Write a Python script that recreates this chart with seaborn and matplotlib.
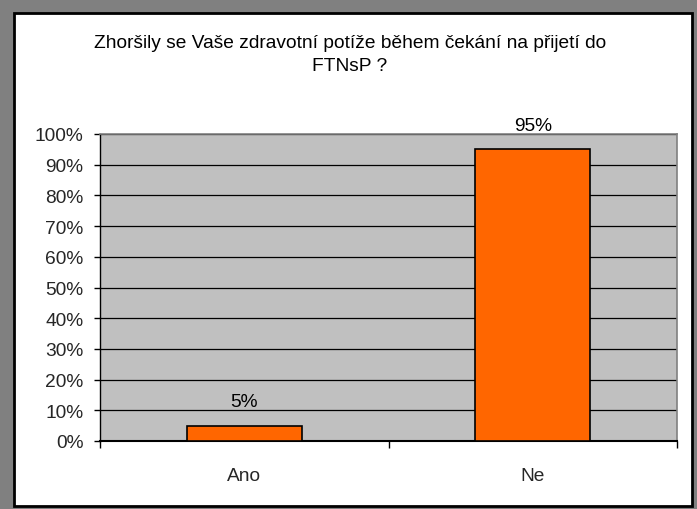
import matplotlib
matplotlib.use("Agg")
import matplotlib.pyplot as plt
import matplotlib.patches as mpatches
import seaborn as sns
import pandas as pd

categories = ["Ano", "Ne"]
values = [5, 95]
labels = ["5%", "95%"]
yticks = [0, 10, 20, 30, 40, 50, 60, 70, 80, 90, 100]
title = "Zhoršily se Vaše zdravotní potíže během čekání na přijetí do\nFTNsP ?"

sns.set_theme(style="white")
plt.rcParams['font.family'] = ['Liberation Sans', 'DejaVu Sans']
FS = 13.8

W, H = 697, 510
fig = plt.figure(figsize=(W / 100, H / 100), dpi=100)
fig.patch.set_facecolor("#808080")

# white chart area with black border
bg = fig.add_axes([0, 0, 1, 1], zorder=-5)
bg.set_xlim(0, W)
bg.set_ylim(H, 0)
bg.axis("off")
bg.add_patch(mpatches.Rectangle((14, 14), 692 - 14, 507 - 14, facecolor="white",
                                edgecolor="black", linewidth=2))

ax = fig.add_axes([100 / W, 1 - 442 / H, 577 / W, 307 / H], zorder=1)
ax.set_facecolor("#C0C0C0")

df = pd.DataFrame({"cat": categories, "val": values})
sns.barplot(data=df, x="cat", y="val", ax=ax, color="#FF6600", width=0.4,
            edgecolor="black", linewidth=1.2, saturation=1, zorder=3)

ax.set_ylim(0, 100)
ax.set_xlim(-0.5, 1.5)
ax.set_yticks(yticks)
ax.set_yticklabels([f"{t}%" for t in yticks], fontsize=FS)
ax.yaxis.grid(True, color="black", linewidth=0.9)
ax.set_axisbelow(True)
ax.set_xlabel("")
ax.set_ylabel("")
ax.tick_params(axis="x", length=0, labelsize=FS, pad=19)
ax.tick_params(axis="y", left=True, length=4, width=1, color="black", pad=8)
ax.set_xticks([0, 1])
ax.set_xticklabels(categories)
ax.set_xticks([-0.5, 0.5, 1.5], minor=True)
ax.tick_params(axis="x", which="minor", bottom=True, length=5, width=1, color="black")

for s in ["top", "right"]:
    ax.spines[s].set_color("#808080")
    ax.spines[s].set_linewidth(1.2)
ax.spines["left"].set_color("black")
ax.spines["bottom"].set_color("black")
ax.spines["left"].set_linewidth(1)
ax.spines["bottom"].set_linewidth(1.5)

for i, (v, lab) in enumerate(zip(values, labels)):
    ax.annotate(lab, (i, v), xytext=(0, 11), textcoords="offset points",
                ha="center", va="bottom", fontsize=FS, color="black")

fig.text(350 / W, 1 - 55 / H, title, ha="center", va="center", fontsize=FS,
         linespacing=1.45, color="black")

fig.savefig("out.png", dpi=100, facecolor=fig.get_facecolor())
